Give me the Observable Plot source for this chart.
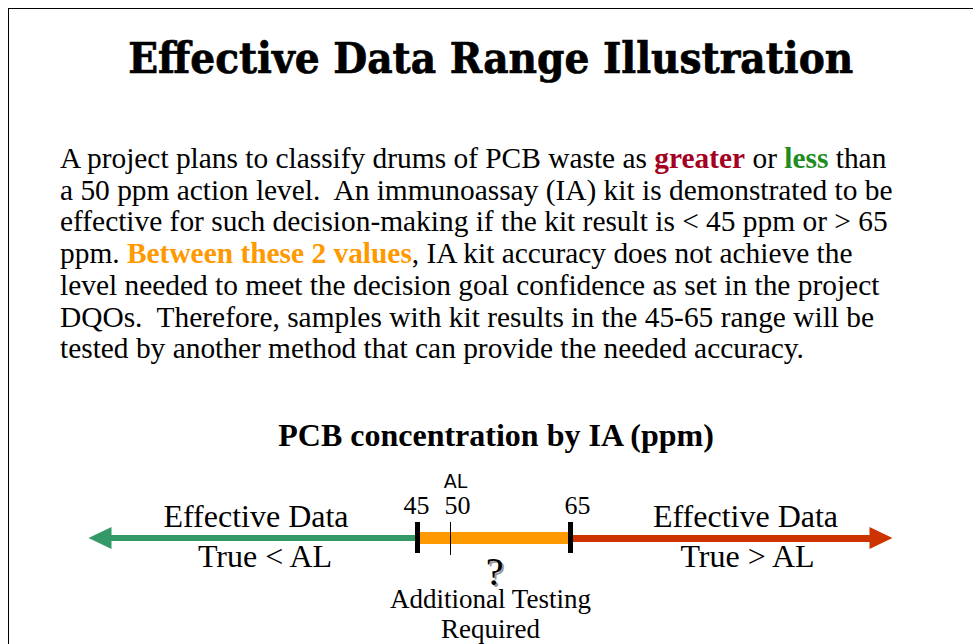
<!DOCTYPE html>
<html>
<head>
<meta charset="utf-8">
<script src="https://cdn.jsdelivr.net/npm/d3@7"></script>
<script src="https://cdn.jsdelivr.net/npm/@observablehq/plot@0.6"></script>
<style>
  html, body { margin: 0; padding: 0; background: #fff; }
  body { width: 973px; height: 644px; overflow: hidden; position: relative; }
  #box { position: absolute; left: 8px; top: 8px; width: 2000px; height: 2000px;
         border-top: 1px solid #000; border-left: 1px solid #000; }
  #title { position: absolute; left: 0; top: 38px; width: 981px; text-align: center;
           font-family: "DejaVu Serif", serif; font-weight: bold; font-size: 42px; line-height: 1; margin: 0; white-space: nowrap;
           -webkit-text-stroke: 0.7px #000; }
  #title span { display: inline-block; transform-origin: center; }
  #para { position: absolute; left: 60px; top: 143px; margin: 0; white-space: pre;
          font-family: "Liberation Serif", "Times New Roman", serif; font-size: 29.4px; line-height: 31.7px; color: #000; }
  .greater { color: #A50021; font-weight: bold; }
  .less { color: #1E8C1E; font-weight: bold; }
  .between { color: #FF9900; font-weight: bold; }
  #heading { position: absolute; left: 0; top: 419px; width: 992px; text-align: center; margin: 0;
             font-family: "Liberation Serif", "Times New Roman", serif; font-weight: bold; font-size: 32px; line-height: 1; white-space: nowrap; }
  #chart { position: absolute; left: 0; top: 455px; }
</style>
</head>
<body>
<div id="box"></div>
<h1 id="title"><span>Effective Data Range Illustration</span></h1>
<p id="para">A project plans to classify drums of PCB waste as <span class="greater">greater</span> or <span class="less">less</span> than
a 50 ppm action level.  An immunoassay (IA) kit is demonstrated to be
effective for such decision-making if the kit result is &lt; 45 ppm or &gt; 65
ppm. <span class="between">Between these 2 values</span>, IA kit accuracy does not achieve the
level needed to meet the decision goal confidence as set in the project
DQOs.  Therefore, samples with kit results in the 45-65 range will be
tested by another method that can provide the needed accuracy.</p>
<h2 id="heading">PCB concentration by IA (ppm)</h2>
<div id="chart"></div>
<script>
// ---- data ----
const axisMin = 0;          // left arrow tip (ppm, schematic)
const axisMax = 105;        // right arrow tip (ppm, schematic)
const actionLevel = 50;
const cutoffs = [45, 65];
const zoneStart = [0, 45, 65];
const zoneEnd = [45, 65, 105];
const zoneColor = ["#339966", "#FF9900", "#CC3300"];
const zoneTopLabel = ["Effective Data", "", "Effective Data"];
const zoneBottomLabel = ["True < AL", "", "True > AL"];
const tickValues = [45, 50, 65];
const tickLabels = ["45", "50", "65"];
const middleNote = ["Additional Testing", "Required"];

// fit title width
const tspan = document.querySelector("#title span");
const tw = tspan.getBoundingClientRect().width;
tspan.style.transform = `scaleX(${725 / tw})`;

const zones = zoneStart.map((s, i) => ({s, e: zoneEnd[i], c: zoneColor[i], top: zoneTopLabel[i], bottom: zoneBottomLabel[i], mid: (s + zoneEnd[i]) / 2}));
const ticks = tickValues.map((v, i) => ({v, label: tickLabels[i]}));

const leftHead = {draw(ctx) { ctx.moveTo(0, 0); ctx.lineTo(23, -11); ctx.lineTo(23, 11); ctx.closePath(); }};
const rightHead = {draw(ctx) { ctx.moveTo(0, 0); ctx.lineTo(-23, -11); ctx.lineTo(-23, 11); ctx.closePath(); }};

const serif = "Liberation Serif, Times New Roman, serif";
const label = (data, opts) => Plot.text(data, {frameAnchor: "top", lineAnchor: "top", fontFamily: serif, fill: "#000", ...opts});

const plot = Plot.plot({
  width: 973,
  height: 189,
  marginTop: 67,
  marginBottom: 91,
  marginLeft: 0,
  marginRight: 0,
  x: {type: "linear", domain: [axisMin, 45, actionLevel, 65, axisMax], range: [88, 417, 450, 570, 892], axis: null},
  style: {background: "transparent", overflow: "visible"},
  marks: [
    // green & red shafts
    Plot.rect([zones[0]], {x1: "s", x2: "e", fill: "c", insetTop: 13, insetBottom: 12, insetLeft: 20}),
    Plot.rect([zones[2]], {x1: "s", x2: "e", fill: "c", insetTop: 13, insetBottom: 11, insetRight: 20}),
    // orange middle band
    Plot.rect([zones[1]], {x1: "s", x2: "e", fill: "c", insetTop: 10, insetBottom: 9}),
    // arrowheads
    Plot.dot([axisMin], {x: d => d, symbol: leftHead, fill: zoneColor[0], stroke: "none"}),
    Plot.dot([axisMax], {x: d => d, symbol: rightHead, fill: zoneColor[2], stroke: "none"}),
    // action level tick
    Plot.tickX([actionLevel], {x: d => d, stroke: "#000", strokeWidth: 1, insetBottom: -2}),
    // cutoff ticks
    Plot.tickX(cutoffs, {x: d => d, stroke: "#000", strokeWidth: 5}),
    // tick labels
    label([ticks[0]], {x: "v", text: "label", dy: -27, dx: -1, fontSize: 26}),
    label([ticks[1]], {x: "v", text: "label", dy: -27, dx: 7, fontSize: 26}),
    label([ticks[2]], {x: "v", text: "label", dy: -27, dx: 7, fontSize: 26}),
    label([actionLevel], {x: d => d, text: () => "AL", dy: -48, dx: 5, fontFamily: "DejaVu Sans, sans-serif", fontSize: 19}),
    // zone labels
    label([zones[0]], {x: "mid", text: "top", dy: -18.5, dx: 3, fontSize: 32}),
    label([zones[0]], {x: "mid", text: "bottom", dy: 21.5, dx: 12, fontSize: 32}),
    label([zones[2]], {x: "mid", text: "top", dy: -18.5, dx: 14, fontSize: 32}),
    label([zones[2]], {x: "mid", text: "bottom", dy: 21.5, dx: 16, fontSize: 32}),
    // question mark with shadow
    label([zones[1]], {x: "mid", text: () => "?", dy: 36.5, dx: 6, fontSize: 40, fill: "#9a9a9a"}),
    label([zones[1]], {x: "mid", text: () => "?", dy: 34.5, dx: 4, fontSize: 40}),
    // additional testing note
    label([middleNote[0]], {x: () => zones[1].mid, text: d => d, dy: 66, fontSize: 27}),
    label([middleNote[1]], {x: () => zones[1].mid, text: d => d, dy: 96, fontSize: 27})
  ]
});
document.getElementById("chart").appendChild(plot);
</script>
</body>
</html>
